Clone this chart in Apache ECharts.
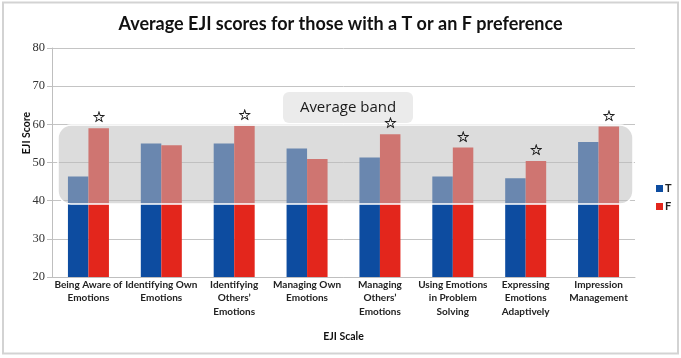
<!DOCTYPE html>
<html>
<head>
<meta charset="utf-8">
<script src="https://cdn.jsdelivr.net/npm/echarts@6/dist/echarts.min.js"></script>
<style>html,body{margin:0;padding:0;background:#fff}#c{width:681px;height:358px}</style>
</head>
<body>
<div id="c"></div>
<script>
var titleText = 'Average EJI scores for those with a T or an F preference';
var categories = ['Being Aware of\nEmotions', 'Identifying Own\nEmotions', 'Identifying\nOthers\u2019\nEmotions', 'Managing Own\nEmotions', 'Managing\nOthers\u2019\nEmotions', 'Using Emotions\nin Problem\nSolving', 'Expressing\nEmotions\nAdaptively', 'Impression\nManagement'];
var tValues = [46.3, 55.0, 55.0, 53.7, 51.3, 46.3, 45.9, 55.4];
var fValues = [59.0, 54.5, 59.6, 50.9, 57.4, 53.9, 50.4, 59.4];
var starred = [true, false, true, false, true, true, true, true];
var bandRange = [39.1, 59.8];
var bandLabel = 'Average band';
var yTicks = {min: 20, max: 80, interval: 10};

var chart = echarts.init(document.getElementById('c'), null, {renderer: 'canvas'});
var font = 'Lato, "Open Sans", sans-serif';
var option = {
  animation: false,
  backgroundColor: '#ffffff',
  title: {text: titleText, left: 'center', top: 10,
    textStyle: {fontFamily: font, fontSize: 18, fontWeight: 'bold', color: '#111'}},
  grid: {left: 52, right: 46, top: 48, bottom: 81, containLabel: false},
  legend: {data: ['T', 'F'], orient: 'vertical', left: 651, top: 178, itemWidth: 7, itemHeight: 7, itemGap: 7,
    icon: 'rect', textStyle: {fontFamily: font, fontSize: 11, fontWeight: 'bold', color: '#222', padding: [0,0,0,-3]}},
  xAxis: {type: 'category', data: categories,
    name: 'EJI Scale', nameLocation: 'middle', nameGap: 54,
    nameTextStyle: {fontFamily: font, fontSize: 10.5, fontWeight: 'bold', color: '#111'},
    axisLine: {lineStyle: {color: '#bfbfbf'}}, axisTick: {show: false},
    axisLabel: {interval: 0, margin: 1, fontFamily: font, fontSize: 10, fontWeight: 'bold', color: '#222', lineHeight: 13.5}},
  yAxis: {type: 'value', min: yTicks.min, max: yTicks.max, interval: yTicks.interval,
    axisLine: {show: true, lineStyle: {color: '#bfbfbf'}},
    axisTick: {show: true, length: 5, lineStyle: {color: '#bfbfbf'}},
    splitLine: {lineStyle: {color: '#c4c4c4'}},
    axisLabel: {margin: 7, fontFamily: '"Liberation Serif", serif', fontSize: 12.5, color: '#333'}},
  series: [
    {name: 'T', type: 'bar', data: tValues, barWidth: 20.5, barGap: '0%', z: 2,
      itemStyle: {color: '#0D4CA0'}},
    {name: 'F', type: 'bar', data: fValues, barWidth: 20.5, z: 2,
      itemStyle: {color: '#E3261C'}},
    {name: 'stars', type: 'scatter', z: 70, symbolSize: 1, itemStyle: {color: 'rgba(0,0,0,0)'},
      data: fValues.map(function (v, i) { return starred[i] ? [i, v] : [i, '-']; }),
      label: {show: true, position: 'top', distance: 2, offset: [10.5, 0], formatter: '\u2606',
        fontFamily: '"DejaVu Sans", sans-serif', fontSize: 15, fontWeight: 'bold', color: '#000',
        textBorderColor: '#000', textBorderWidth: 0.4},
      silent: true}
  ]
};
chart.setOption(option);

function drawExtras() {
  var yTop = chart.convertToPixel({yAxisIndex: 0}, bandRange[1]);
  var yBot = chart.convertToPixel({yAxisIndex: 0}, bandRange[0]);
  var x0 = 58, x1 = 633;
  chart.setOption({
    graphic: [
      {type: 'rect', z: 50, shape: {x: x0, y: yTop, width: x1 - x0, height: yBot - yTop, r: 13},
        style: {fill: 'rgba(189,189,189,0.53)', stroke: '#ffffff', lineWidth: 1.5}},
      {type: 'rect', z: 60, shape: {x: 283, y: yTop - 33, width: 130, height: 31, r: 6},
        style: {fill: '#ebebeb'}},
      {type: 'text', z: 61, x: 348, y: yTop - 17,
        style: {text: bandLabel, fontFamily: '"Open Sans", sans-serif', fontSize: 15, fill: '#1a1a1a', align: 'center', verticalAlign: 'middle'}},
      {type: 'text', z: 61, x: 27, y: 133, rotation: Math.PI / 2,
        style: {text: 'EJI Score', fontFamily: font, fontSize: 10.5, fontWeight: 'bold', fill: '#111', align: 'center', verticalAlign: 'middle'}},
      {type: 'rect', z: 80, shape: {x: 3, y: 2.5, width: 675, height: 351},
        style: {fill: 'none', stroke: '#d3d3d3', lineWidth: 2}}
    ]
  });
}
drawExtras();
</script>
</body>
</html>
